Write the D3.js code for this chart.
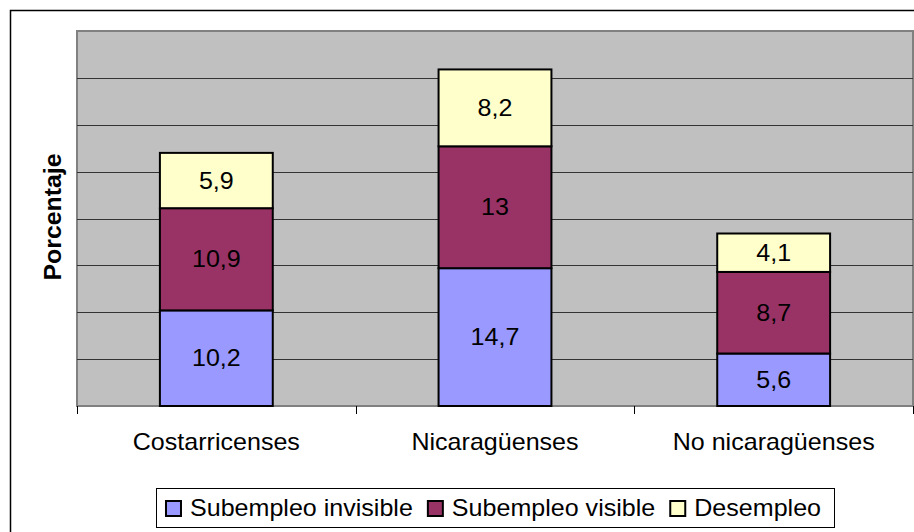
<!DOCTYPE html>
<html>
<head>
<meta charset="utf-8">
<script src="https://cdn.jsdelivr.net/npm/d3@7"></script>
<style>
  html, body { margin: 0; padding: 0; background: #fff; }
  svg { display: block; font-family: "Liberation Sans", Arial, sans-serif; }
</style>
</head>
<body>
<svg id="chart" width="914" height="532"></svg>
<script>
// Data
const categories = ['Costarricenses', 'Nicaragüenses', 'No nicaragüenses'];
const seriesNames = ['Subempleo invisible', 'Subempleo visible', 'Desempleo'];
const subempleoInvisible = [10.2, 14.7, 5.6];
const subempleoVisible = [10.9, 13, 8.7];
const desempleo = [5.9, 8.2, 4.1];
const yTicks = [0, 5, 10, 15, 20, 25, 30, 35, 40];

const colors = ['#9999FF', '#993366', '#FFFFCC'];
const sx = 1.09; // text in the original is a bit wider than Arial

const svg = d3.select('#chart');

// outer chart border (right/bottom run off the picture)
svg.append('rect')
  .attr('x', 10.5).attr('y', 10.5)
  .attr('width', 930).attr('height', 540)
  .attr('fill', '#fff')
  .attr('stroke', '#000')
  .attr('stroke-width', 1.5);

const plot = { left: 77, right: 913, top: 31, bottom: 406 };

const x = d3.scaleBand()
  .domain(categories)
  .range([plot.left, plot.right])
  .paddingInner(0.595)
  .paddingOuter(0.2975);

const y = d3.scaleLinear()
  .domain([0, 40])
  .range([plot.bottom, plot.top]);

// plot background
svg.append('rect')
  .attr('x', plot.left).attr('y', plot.top)
  .attr('width', plot.right - plot.left)
  .attr('height', plot.bottom - plot.top)
  .attr('fill', '#C0C0C0')
  .attr('stroke', '#808080')
  .attr('stroke-width', 2);

// gridlines
svg.append('g')
  .selectAll('line')
  .data(yTicks.filter(t => t > 0 && t < 40))
  .enter().append('line')
  .attr('x1', plot.left).attr('x2', plot.right)
  .attr('y1', d => Math.round(y(d)) + 0.5)
  .attr('y2', d => Math.round(y(d)) + 0.5)
  .attr('stroke', '#333')
  .attr('stroke-width', 1);

// x axis: line + ticks at category boundaries
svg.append('line')
  .attr('x1', plot.left).attr('x2', plot.right)
  .attr('y1', plot.bottom).attr('y2', plot.bottom)
  .attr('stroke', '#808080').attr('stroke-width', 2);

const step = x.step();
const boundaries = d3.range(categories.length + 1).map(i => plot.left + i * step);
svg.append('g')
  .selectAll('line')
  .data(boundaries)
  .enter().append('line')
  .attr('x1', d => Math.round(d) + 0.5).attr('x2', d => Math.round(d) + 0.5)
  .attr('y1', plot.bottom).attr('y2', plot.bottom + 8)
  .attr('stroke', '#000').attr('stroke-width', 1);

// stacked data
const table = categories.map((c, i) => ({
  category: c,
  'Subempleo invisible': subempleoInvisible[i],
  'Subempleo visible': subempleoVisible[i],
  'Desempleo': desempleo[i]
}));
const stacked = d3.stack().keys(seriesNames)(table);

const layers = svg.append('g')
  .selectAll('g')
  .data(stacked)
  .enter().append('g')
  .attr('fill', (d, i) => colors[i]);

layers.selectAll('rect')
  .data(d => d)
  .enter().append('rect')
  .attr('x', d => x(d.data.category))
  .attr('y', d => y(d[1]))
  .attr('width', x.bandwidth())
  .attr('height', d => y(d[0]) - y(d[1]))
  .attr('stroke', '#000')
  .attr('stroke-width', 2);

// value labels
layers.selectAll('text')
  .data((d) => d.map(v => ({ v, key: d.key })))
  .enter().append('text')
  .attr('transform', d => {
    const cx = x(d.v.data.category) + x.bandwidth() / 2;
    const cy = (y(d.v[0]) + y(d.v[1])) / 2 + 8;
    return `translate(${cx},${cy}) scale(${sx},1)`;
  })
  .attr('text-anchor', 'middle')
  .attr('fill', '#000')
  .style('font-size', '23px')
  .text(d => String(d.v.data[d.key]).replace('.', ','));

// category labels
svg.append('g')
  .selectAll('text')
  .data(categories)
  .enter().append('text')
  .attr('transform', d => `translate(${x(d) + x.bandwidth() / 2},449.5) scale(${sx},1)`)
  .attr('text-anchor', 'middle')
  .style('font-size', '23px')
  .text(d => d);

// y axis title
svg.append('text')
  .attr('transform', 'translate(61,217) rotate(-90) scale(1.08,1)')
  .attr('text-anchor', 'middle')
  .style('font-size', '23px')
  .style('font-weight', 'bold')
  .text('Porcentaje');

// legend
const legend = svg.append('g');
const legendBox = legend.append('rect')
  .attr('fill', '#fff')
  .attr('stroke', '#000')
  .attr('stroke-width', 1);

let cursor = 0;
const items = [];
seriesNames.forEach((name, i) => {
  const g = legend.append('g');
  g.append('rect')
    .attr('x', cursor + 1).attr('y', 501)
    .attr('width', 15).attr('height', 15)
    .attr('fill', colors[i])
    .attr('stroke', '#000')
    .attr('stroke-width', 2);
  const t = g.append('text')
    .attr('transform', `translate(${cursor + 25},516) scale(${sx},1)`)
    .style('font-size', '23px')
    .text(name);
  const w = t.node().getComputedTextLength() * sx;
  cursor += 25 + w + 14;
  items.push(g);
});
const legendWidth = cursor - 14;
const legendLeft = (plot.left + plot.right) / 2 - (legendWidth + 22) / 2;
legendBox
  .attr('x', Math.round(legendLeft) + 0.5)
  .attr('y', 488.5)
  .attr('width', Math.round(legendWidth + 22))
  .attr('height', 39);
items.forEach(g => g.attr('transform', `translate(${legendLeft + 9},0)`));
</script>
</body>
</html>
